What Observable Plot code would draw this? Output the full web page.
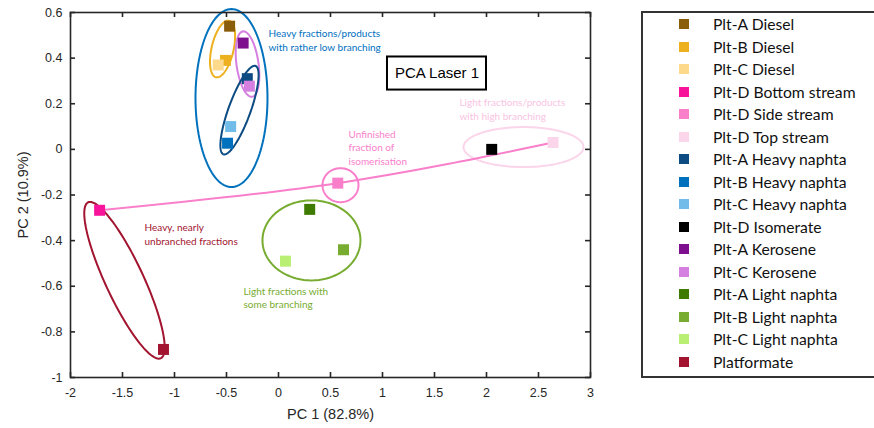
<!DOCTYPE html>
<html><head><meta charset="utf-8">
<script src="https://cdn.jsdelivr.net/npm/d3@7"></script>
<script src="https://cdn.jsdelivr.net/npm/@observablehq/plot@0.6"></script>
<style>
body{margin:0;background:#fff;}
#wrap{position:relative;width:874px;height:428px;overflow:hidden;}
#chart{position:absolute;left:0;top:0;}
#legend{position:absolute;left:641px;top:11px;width:235px;height:367px;border:2px solid #333;box-sizing:border-box;font-family:Lato,"Open Sans",sans-serif;font-size:15.7px;color:#111;}
.row{position:absolute;left:0;height:20px;display:flex;align-items:center;}
.sw{width:10px;height:10px;margin-left:36px;margin-right:24px;}
</style></head>
<body><div id="wrap"><div id="chart"></div><div id="legend"></div></div>
<script>
const names = ["Plt-A Diesel","Plt-B Diesel","Plt-C Diesel","Plt-D Bottom stream","Plt-D Side stream","Plt-D Top stream","Plt-A Heavy naphta","Plt-B Heavy naphta","Plt-C Heavy naphta","Plt-D Isomerate","Plt-A Kerosene","Plt-C Kerosene","Plt-A Light naphta","Plt-B Light naphta","Plt-C Light naphta","Platformate"];
const pc1 = [-0.47,-0.51,-0.58,-1.72,0.57,2.64,-0.30,-0.49,-0.46,2.05,-0.34,-0.28,0.30,0.625,0.067,-1.106];
const pc2 = [0.54,0.39,0.37,-0.267,-0.148,0.03,0.31,0.027,0.10,0.0,0.466,0.277,-0.263,-0.44,-0.49,-0.877];
const colors = ["#8a5d0b","#edb120","#fdd98c","#f7139a","#f97fcb","#fbd5ea","#0d4c82","#0072bd","#72bce9","#000000","#7e0f8e","#d580e0","#3f7b00","#77ac30","#b9ef72","#a2142f"];
const xTicks = [-2,-1.5,-1,-0.5,0,0.5,1,1.5,2,2.5,3];
const yTicks = [0.6,0.4,0.2,0,-0.2,-0.4,-0.6,-0.8,-1];
const streamIdx = [3,4,5];

// annotation ellipses: center in data units, semi-axes in pixels, tilt from vertical (deg)
const ellCx = [-0.452,-0.538,-0.298,-0.375,-1.481,0.317,0.596,2.356];
const ellCy = [0.225,0.440,0.374,0.172,-0.574,-0.399,-0.157,0.010];
const ellA = [89,29,33,47,86,40,17,20];
const ellB = [36,11,11,11,19,49,18,60];
const ellTilt = [0,13,-8,20,-25,0,0,0];
const ellColor = ["#0072bd","#edb120","#d580e0","#0d4c82","#a2142f","#77ac30","#f97fcb","#fbd5ea"];

const notes = [
  {t:"Heavy fractions/products\nwith rather low branching", x:-0.096, y:0.481, c:"#0070c0"},
  {t:"Unfinished\nfraction of\nisomerisation", x:0.673, y:0.010, c:"#f97fcb"},
  {t:"Light fractions/products\nwith high branching", x:1.740, y:0.179, c:"#f9c4e2"},
  {t:"Heavy, nearly\nunbranched fractions", x:-1.288, y:-0.370, c:"#a2142f"},
  {t:"Light fractions with\nsome branching", x:-0.337, y:-0.647, c:"#77ac30"}
];

const W = 640, H = 428, mL = 70, mR = 50, mT = 12, mB = 51;
const kx = (W - mL - mR) / 5, ky = (H - mT - mB) / 1.6;
const tk = 5; // inward tick length, px

const pts = names.map((n,i)=>({name:n, x:pc1[i], y:pc2[i], c:colors[i]}));
const stream = streamIdx.map(i=>pts[i]);

const ell = [];
ellCx.forEach((cx,k)=>{
  const th = ellTilt[k]*Math.PI/180, a = ellA[k], b = ellB[k];
  for (let j=0;j<=120;j++){
    const t = j/120*2*Math.PI;
    const dx = a*Math.cos(t)*Math.sin(th) + b*Math.sin(t)*Math.cos(th);
    const dy = -a*Math.cos(t)*Math.cos(th) + b*Math.sin(t)*Math.sin(th);
    ell.push({k, x: cx + dx/kx, y: ellCy[k] - dy/ky, c: ellColor[k]});
  }
});

const fmt = d => String(d);
const tickStyle = {stroke:"#262626", strokeWidth:1.6};
const plot = Plot.plot({
  width: W, height: H, marginLeft: mL, marginRight: mR, marginTop: mT, marginBottom: mB,
  style: {fontFamily: "'Liberation Sans', Arial, sans-serif", fontSize: "12.5px", color: "#262626", background: "#fff"},
  x: {domain: [-2,3]},
  y: {domain: [-1,0.6]},
  marks: [
    Plot.line(ell, {x:"x", y:"y", z:"k", stroke:"c", strokeWidth:2}),
    Plot.line(stream, {x:"x", y:"y", stroke:"#f97fcb", strokeWidth:2, curve:"natural"}),
    Plot.dot(pts, {x:"x", y:"y", fill:"c", symbol:"square", r:6.2}),
    Plot.text(notes, {x:"x", y:"y", text:"t", fill:"c", textAnchor:"start", lineHeight:1.35, fontSize:10, fontFamily:"Lato, 'Open Sans', sans-serif"}),
    Plot.rect([{x1:1.048,x2:2.0,y1:0.405,y2:0.260}], {x1:"x1",x2:"x2",y1:"y1",y2:"y2", fill:"white", stroke:"black", strokeWidth:2}),
    Plot.text(["PCA Laser 1"], {x:1.524, y:0.333, text:d=>d, fontSize:15, fill:"black"}),
    Plot.ruleX(xTicks, {x:d=>d, y1:-1, y2:-1 + tk/ky, ...tickStyle}),
    Plot.ruleX(xTicks, {x:d=>d, y1:0.6, y2:0.6 - tk/ky, ...tickStyle}),
    Plot.ruleY(yTicks, {y:d=>d, x1:-2, x2:-2 + tk/kx, ...tickStyle}),
    Plot.ruleY(yTicks, {y:d=>d, x1:3, x2:3 - tk/kx, ...tickStyle}),
    Plot.frame({stroke:"#262626", strokeWidth:1.6}),
    Plot.axisX(xTicks, {anchor:"bottom", tickSize:0, tickPadding:11, tickFormat:fmt, label:"PC 1 (82.8%)", labelAnchor:"center", labelArrow:"none", labelOffset:41}),
    Plot.axisY(yTicks, {anchor:"left", tickSize:0, tickPadding:8, tickFormat:fmt, label:"PC 2 (10.9%)", labelAnchor:"center", labelArrow:"none", labelOffset:53})
  ]
});
document.getElementById("chart").appendChild(plot);
d3.select(plot).selectAll("[aria-label='x-axis label'] text, [aria-label='y-axis label'] text").style("font-size","14.5px");

const leg = document.getElementById("legend");
names.forEach((n,i)=>{
  const r = document.createElement("div");
  r.className = "row";
  r.style.top = (1 + 22.5*i) + "px";
  r.innerHTML = `<div class="sw" style="background:${colors[i]}"></div><span>${n}</span>`;
  leg.appendChild(r);
});
</script></body></html>
